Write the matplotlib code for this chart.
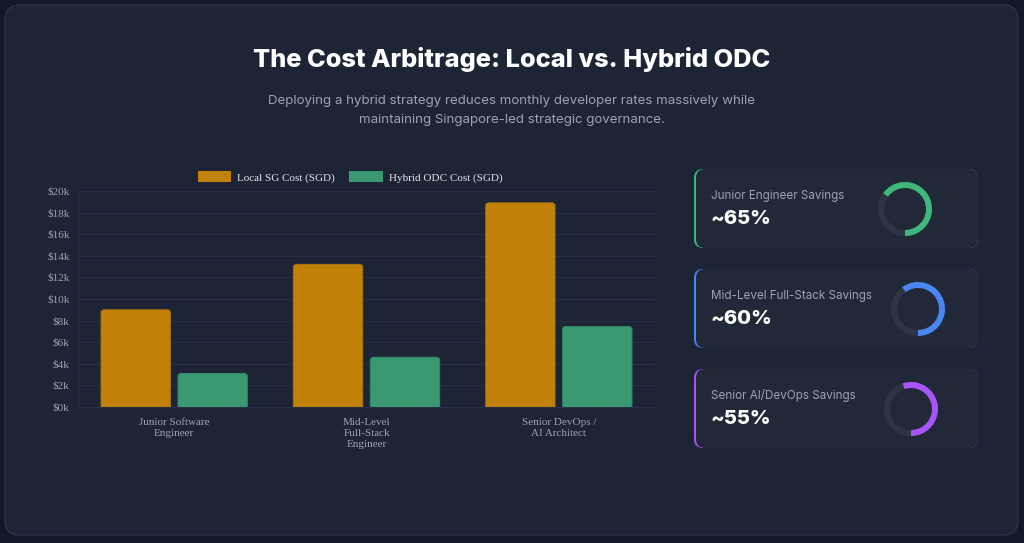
import numpy as np
import matplotlib
matplotlib.use("Agg")
import matplotlib.pyplot as plt
from matplotlib.patches import FancyBboxPatch, Wedge

# data
roles = ["Junior Software\nEngineer", "Mid-Level\nFull-Stack\nEngineer", "Senior DevOps /\nAI Architect"]
local_cost = [9000, 13200, 18900]
hybrid_cost = [3100, 4600, 7450]
y_ticks = [0, 2000, 4000, 6000, 8000, 10000, 12000, 14000, 16000, 18000, 20000]

stat_labels = ["Junior Engineer Savings", "Mid-Level Full-Stack Savings", "Senior AI/DevOps Savings"]
stat_values = ["~65%", "~60%", "~55%"]
stat_pct = [65, 60, 55]
stat_colors = ["#3fb67a", "#4a86f0", "#a855f7"]

W, H = 1024, 543
BG = "#111827"
CARD = "#1c2436"
GRID = "#283043"
MUTED = "#9ca3af"
GOLD = "#c2820a"
GREEN = "#3a9970"

fig = plt.figure(figsize=(W / 100, H / 100), dpi=100, facecolor=BG)

# pixel-space overlay for card, title and side stats
bg = fig.add_axes([0, 0, 1, 1], zorder=0)
bg.set_xlim(0, W)
bg.set_ylim(H, 0)
bg.axis("off")

bg.add_patch(FancyBboxPatch((5, 5), 1013, 530, boxstyle="round,pad=0,rounding_size=15",
                            fc=CARD, ec="#2a3347", lw=1))

bg.text(512, 60, "The Cost Arbitrage: Local vs. Hybrid ODC", ha="center", va="center",
        color="white", fontsize=18.3, fontweight="heavy", family="Inter")
bg.text(512, 101, "Deploying a hybrid strategy reduces monthly developer rates massively while",
        ha="center", va="center", color=MUTED, fontsize=9.6, family="Inter")
bg.text(512, 120, "maintaining Singapore-led strategic governance.",
        ha="center", va="center", color=MUTED, fontsize=9.6, family="Inter")

card_tops = [169, 269, 369]
donut_cx = [905, 918, 911]
for i, top in enumerate(card_tops):
    h = 79
    bg.add_patch(FancyBboxPatch((694, top), 284, h, boxstyle="round,pad=0,rounding_size=9",
                                fc=stat_colors[i], ec="none"))
    bg.add_patch(FancyBboxPatch((696, top), 282, h, boxstyle="round,pad=0,rounding_size=9",
                                fc="#212939", ec="none"))
    bg.text(711, top + 27, stat_labels[i], ha="left", va="center", color=MUTED,
            fontsize=8.4, family="Inter")
    bg.text(710, top + 50, stat_values[i], ha="left", va="center", color="white",
            fontsize=14.5, fontweight="heavy", family="Inter")
    cy = top + 40
    bg.add_patch(Wedge((donut_cx[i], cy), 27, 0, 360, width=6, fc="#2d3545", ec="none"))
    bg.add_patch(Wedge((donut_cx[i], cy), 27, 90 - 3.6 * stat_pct[i], 90, width=6,
                       fc=stat_colors[i], ec="none"))

# bar chart
ax = fig.add_axes([78 / W, (H - 407) / H, 577 / W, 216 / H], zorder=1)
ax.set_facecolor("none")
x = np.arange(len(roles))
bw = 0.36
b1 = ax.bar(x - 0.2, local_cost, bw, color=GOLD, label="Local SG Cost (SGD)")
b2 = ax.bar(x + 0.2, hybrid_cost, bw, color=GREEN, label="Hybrid ODC Cost (SGD)")

# swap plain rectangles for rounded-top ones
px_x = 3 / 192.0
aspect = (20000 / 216.0) / (1 / 192.0)
for bars, fc, ec in [(b1, GOLD, "#a8720c"), (b2, GREEN, "#33886a")]:
    for r in bars:
        r.set_visible(False)
        ax.add_patch(FancyBboxPatch((r.get_x(), -600), r.get_width(), r.get_height() + 600,
                                    boxstyle=f"round,pad=0,rounding_size={px_x}",
                                    mutation_aspect=aspect, fc=fc, ec=ec, lw=0.8,
                                    clip_on=True))

ax.set_xlim(-0.5, 2.5)
ax.set_ylim(0, 20000)
ax.set_yticks(y_ticks)
ax.set_yticklabels([f"${v // 1000}k" for v in y_ticks])
ax.set_xticks(x)
ax.set_xticklabels(roles)
ax.grid(axis="y", color=GRID, lw=0.8)
ax.set_axisbelow(True)
for s in ["top", "right"]:
    ax.spines[s].set_visible(False)
for s in ["left", "bottom"]:
    ax.spines[s].set_color(GRID)
ax.tick_params(length=0, colors=MUTED, labelsize=8)
ax.tick_params(axis="y", pad=6)
ax.tick_params(axis="x", pad=8)
for lbl in ax.get_xticklabels() + ax.get_yticklabels():
    lbl.set_family("Liberation Serif")
for lbl in ax.get_xticklabels():
    lbl.set_linespacing(1.25)

leg = fig.legend(handles=[b1, b2], loc="center", bbox_to_anchor=(350 / W, 1 - 177 / H),
                 ncol=2, frameon=False, handlelength=3.0, handleheight=1.1,
                 columnspacing=1.3, handletextpad=0.55,
                 prop={"family": "Liberation Serif", "size": 8})
for t in leg.get_texts():
    t.set_color("#e5e7eb")
for h in leg.legend_handles:
    h.set_visible(True)

fig.savefig("out.png", dpi=100, facecolor=BG)
